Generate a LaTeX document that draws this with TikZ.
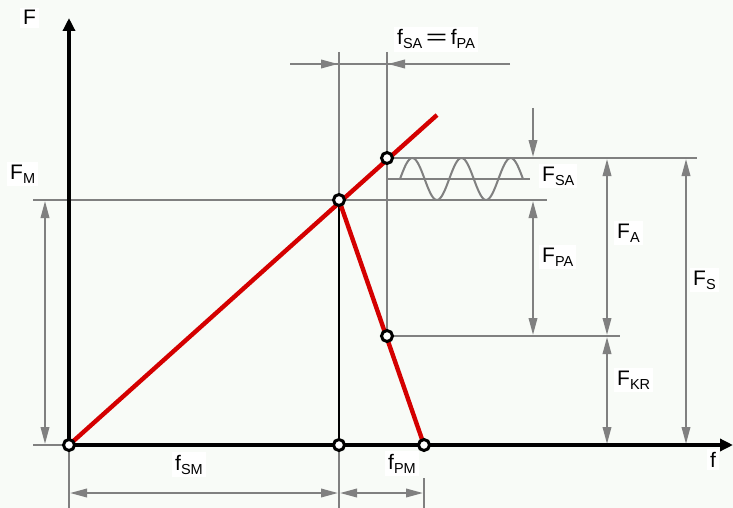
\documentclass[tikz,border=0pt]{standalone}
\usepackage{fontspec}
\setmainfont{Liberation Sans}
\usetikzlibrary{arrows.meta}
\definecolor{dimgray}{RGB}{128,128,128}
\definecolor{cred}{RGB}{212,0,0}
\definecolor{bg}{RGB}{248,251,247}
\newcommand\lab[2]{#1\raisebox{-4pt}{\fontsize{14.5}{16}\selectfont #2}}
\newcommand\wideeq{\scalebox{1.75}[1.0]{=}}
\tikzset{
  dim/.style={draw=dimgray, line width=2pt},
  dtip/.tip={Triangle[length=17pt,width=8.5pt]},
  dimboth/.style={dim, {dtip}-{dtip}, shorten <=1pt, shorten >=1pt},
  dimend/.style={dim, -{dtip}, shorten >=1pt},
  axis/.style={draw=black, line width=3.6pt, -{Triangle[length=13pt,width=12pt]}},
  redline/.style={draw=cred, line width=4.4pt},
  pt/.style={circle, draw=black, fill=white, line width=3pt, minimum size=11pt, inner sep=0pt},
  lbl/.style={fill=white, inner sep=3pt, anchor=base west, font=\fontsize{21}{25}\selectfont},
}
\begin{document}
\begin{tikzpicture}[x=1pt,y=-1pt]
\fill[bg] (0,0) rectangle (733,508);
\useasboundingbox (0,0) rectangle (733,508);
% key coordinates
\coordinate (O) at (69,445);
\coordinate (M) at (339,200);
\coordinate (A) at (387,158);
\coordinate (K) at (387,336);
\coordinate (P) at (424,445);
\coordinate (Mb) at (339,445);
\coordinate (E) at (437,115);
\coordinate (Ytop) at (69,18);
\coordinate (Xend) at (733,445);
% gray reference lines
\draw[dim] (33,200) -- (547,200);
\draw[dim] (387,158) -- (697,158);
\draw[dim] (387,179) -- (530,179);
\draw[dim] (387,336) -- (620,336);
\draw[dim] (339,52) -- (M);
\draw[dim] (387,52) -- (K);
\draw[dim] (33,445) -- (O);
\draw[dim] (O) -- (69,508);
\draw[dim] (Mb) -- (339,508);
\draw[dim] (424,478) -- (424,508);
% sine
\draw[dim] plot[domain=0:900, samples=120, smooth] ({400+\x/900*123}, {179-21*sin(\x)});
% top dimension f_SA = f_PA
\draw[dim] (290,64) -- (510,64);
\coordinate (t1) at (339,64);
\coordinate (t2) at (387,64);
\draw[dimend] (290,64) -- (t1);
\draw[dimend] (510,64) -- (t2);
% vertical dimensions
\coordinate (fm1) at (45,200);
\coordinate (fm2) at (45,445);
\draw[dimboth] (fm1) -- (fm2);
\coordinate (sa0) at (533,108);
\coordinate (sa1) at (533,158);
\draw[dimend] (sa0) -- (sa1);
\coordinate (pa1) at (533,200);
\coordinate (pa2) at (533,336);
\draw[dimboth] (pa1) -- (pa2);
\coordinate (fa1) at (607,158);
\coordinate (fa2) at (607,336);
\coordinate (fa3) at (607,445);
\draw[dimboth] (fa1) -- (fa2);
\draw[dimboth] (fa2) -- (fa3);
\coordinate (fs1) at (686,158);
\coordinate (fs2) at (686,445);
\draw[dimboth] (fs1) -- (fs2);
% horizontal dimensions
\coordinate (d1) at (69,493);
\coordinate (d2) at (339,493);
\coordinate (d3) at (424,493);
\draw[dimboth] (d1) -- (d2);
\draw[dimboth] (d2) -- (d3);
% black vertical
\draw[black, line width=2.2pt] (M) -- (Mb);
% axes
\draw[axis] (O) -- (Ytop);
\draw[axis] (O) -- (Xend);
% red characteristic
\draw[redline] (O) -- (E);
\draw[redline] (M) -- (P);
% points
\node[pt] (nO) at (O) {};
\node[pt] (nM) at (M) {};
\node[pt] (nA) at (A) {};
\node[pt] (nK) at (K) {};
\node[pt] (nP) at (P) {};
\node[pt] (nMb) at (Mb) {};
% labels
\node[lbl] (lF) at (20,25) {F};
\node[lbl] (lFM) at (7,179) {\lab{F}{M}};
\node[lbl] (lfsa) at (394,45) {\lab{f}{SA}\,\wideeq\,\lab{f}{PA}};
\node[lbl] (lFSA) at (539,181) {\lab{F}{SA}};
\node[lbl] (lFPA) at (539,262) {\lab{F}{PA}};
\node[lbl] (lFA) at (614,238) {\lab{F}{A}};
\node[lbl] (lFS) at (690,285) {\lab{F}{S}};
\node[lbl] (lFKR) at (614,385) {\lab{F}{KR}};
\node[lbl] (lfSM) at (172,470) {\lab{f}{SM}};
\node[lbl] (lfPM) at (385,469) {\lab{f}{PM}};
\node[lbl] (lf) at (707,467) {f};
\end{tikzpicture}
\end{document}
